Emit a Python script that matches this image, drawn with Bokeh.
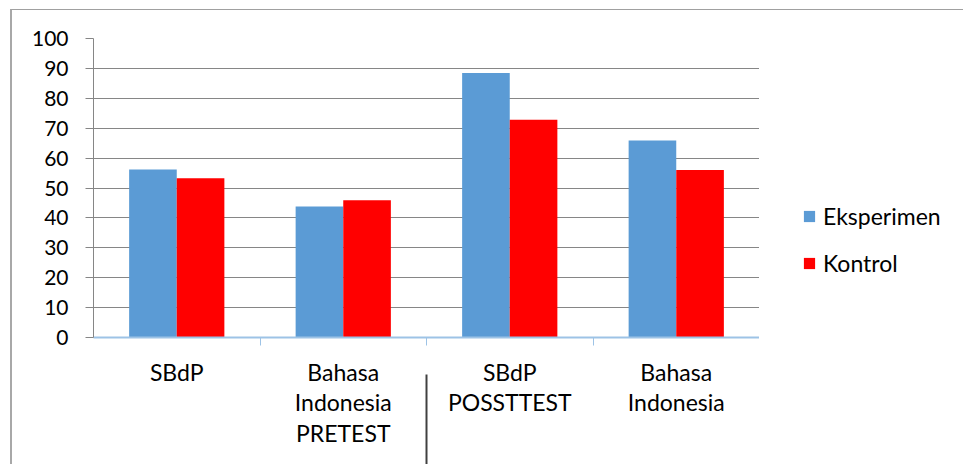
from bokeh.plotting import figure
from bokeh.layouts import row
from bokeh.models import (FactorRange, Range1d, CategoricalAxis, FixedTicker,
                          Legend, LegendItem, ColumnDataSource)
from bokeh.transform import dodge
from bokeh.embed import file_html
from bokeh.resources import INLINE

categories = ["SBdP", "Bahasa\nIndonesia\nPRETEST", "SBdP\nPOSSTTEST", "Bahasa\nIndonesia"]
eksperimen = [56.2, 43.8, 88.5, 65.9]
kontrol = [53.3, 45.9, 72.8, 56.0]
series = ["Eksperimen", "Kontrol"]
fields = ["eksperimen", "kontrol"]
colors = ["#5B9BD5", "#FF0000"]
y_ticks = [0, 10, 20, 30, 40, 50, 60, 70, 80, 90, 100]
boundaries = ["b0", "b1", "b2", "b3", "b4"]   # category boundary ticks
separator = ["sep"]                           # PRETEST | POSTTEST divider

FONT = "Lato"
FS = "23px"
YFS = "21px"
GRID = "#868686"

src = ColumnDataSource(dict(cat=categories, eksperimen=eksperimen, kontrol=kontrol))

p = figure(x_range=FactorRange(factors=categories, range_padding=0),
           y_range=Range1d(0, 100), width=747, height=454,
           output_backend="svg", toolbar_location=None, x_axis_location=None,
           min_border_left=81, min_border_right=0, min_border_top=28,
           min_border_bottom=126)
p.outline_line_color = None
p.background_fill_color = "white"
p.border_fill_color = "white"

p.extra_x_ranges = {
    "bnd": FactorRange(factors=boundaries, range_padding=-0.2),
    "sep": FactorRange(factors=separator, range_padding=0),
}

p.vbar(x=dodge("cat", -0.143, range=p.x_range), top=fields[0], width=0.286,
       source=src, fill_color=colors[0], line_color=None)
p.vbar(x=dodge("cat", 0.143, range=p.x_range), top=fields[1], width=0.286,
       source=src, fill_color=colors[1], line_color=None)

# y axis
yax = p.yaxis[0]
yax.ticker = FixedTicker(ticks=y_ticks)
yax.axis_line_color = GRID
yax.major_tick_line_color = GRID
yax.major_tick_out = 8
yax.major_tick_in = 0
yax.minor_tick_line_color = None
yax.major_label_standoff = 17
yax.major_label_text_font = FONT
yax.major_label_text_font_size = YFS
yax.major_label_text_color = "black"

p.ygrid.ticker = FixedTicker(ticks=y_ticks)
p.ygrid.grid_line_color = GRID
p.xgrid.grid_line_color = None

tick_axis = CategoricalAxis(x_range_name="bnd",
                            axis_line_color="#9DC3E6", axis_line_width=2,
                            major_tick_line_color="#9DC3E6", major_tick_out=8, major_tick_in=0,
                            minor_tick_line_color=None, major_label_text_font_size="0px",
                            major_label_text_alpha=0, major_label_standoff=0)
p.add_layout(tick_axis, "below")

label_axis = CategoricalAxis(axis_line_color=None, major_tick_line_color=None,
                             major_tick_out=0, major_tick_in=0, minor_tick_line_color=None,
                             major_label_standoff=12, major_label_text_font=FONT,
                             major_label_text_font_size=FS, major_label_text_color="black",
                             major_label_text_line_height=1.1)
p.add_layout(label_axis, "below")

sep_axis = CategoricalAxis(x_range_name="sep",
                           axis_line_color=None, major_tick_line_color="#404040",
                           major_tick_line_width=2, major_tick_in=76, major_tick_out=14,
                           minor_tick_line_color=None, major_label_text_font_size="0px",
                           major_label_text_alpha=0, major_label_standoff=0)
p.add_layout(sep_axis, "below")

# legend panel: its x-range holds only the series names, so the bars themselves
# (keyed by category) are not drawn here; only the legend shows
p2 = figure(x_range=FactorRange(factors=series), y_range=Range1d(0, 100),
            width=204, height=454, output_backend="svg", toolbar_location=None,
            x_axis_location=None, y_axis_location=None,
            min_border_left=0, min_border_right=0, min_border_top=0, min_border_bottom=0)
p2.outline_line_color = None
p2.xgrid.grid_line_color = None
p2.ygrid.grid_line_color = None
p2.background_fill_color = "white"
p2.border_fill_color = "white"
items = []
for name, field, col in zip(series, fields, colors):
    r = p2.vbar(x="cat", top=field, width=0.286, source=src,
                fill_color=col, line_color=None)
    items.append(LegendItem(label=name, renderers=[r]))

legend = Legend(items=items, location=(43, 60), glyph_width=14, glyph_height=14,
                label_standoff=7, spacing=19, padding=0, margin=0,
                border_line_color=None, background_fill_alpha=0,
                label_text_font=FONT, label_text_font_size=FS, label_text_color="black")
p2.add_layout(legend)

layout = row(p, p2, spacing=0)
layout.margin = (9, 0, 0, 10)
layout.styles = {"border-left": "2px solid #a8a8a8", "border-top": "1px solid #a0a0a0"}

open("out.html", "w").write(file_html(layout, INLINE))
